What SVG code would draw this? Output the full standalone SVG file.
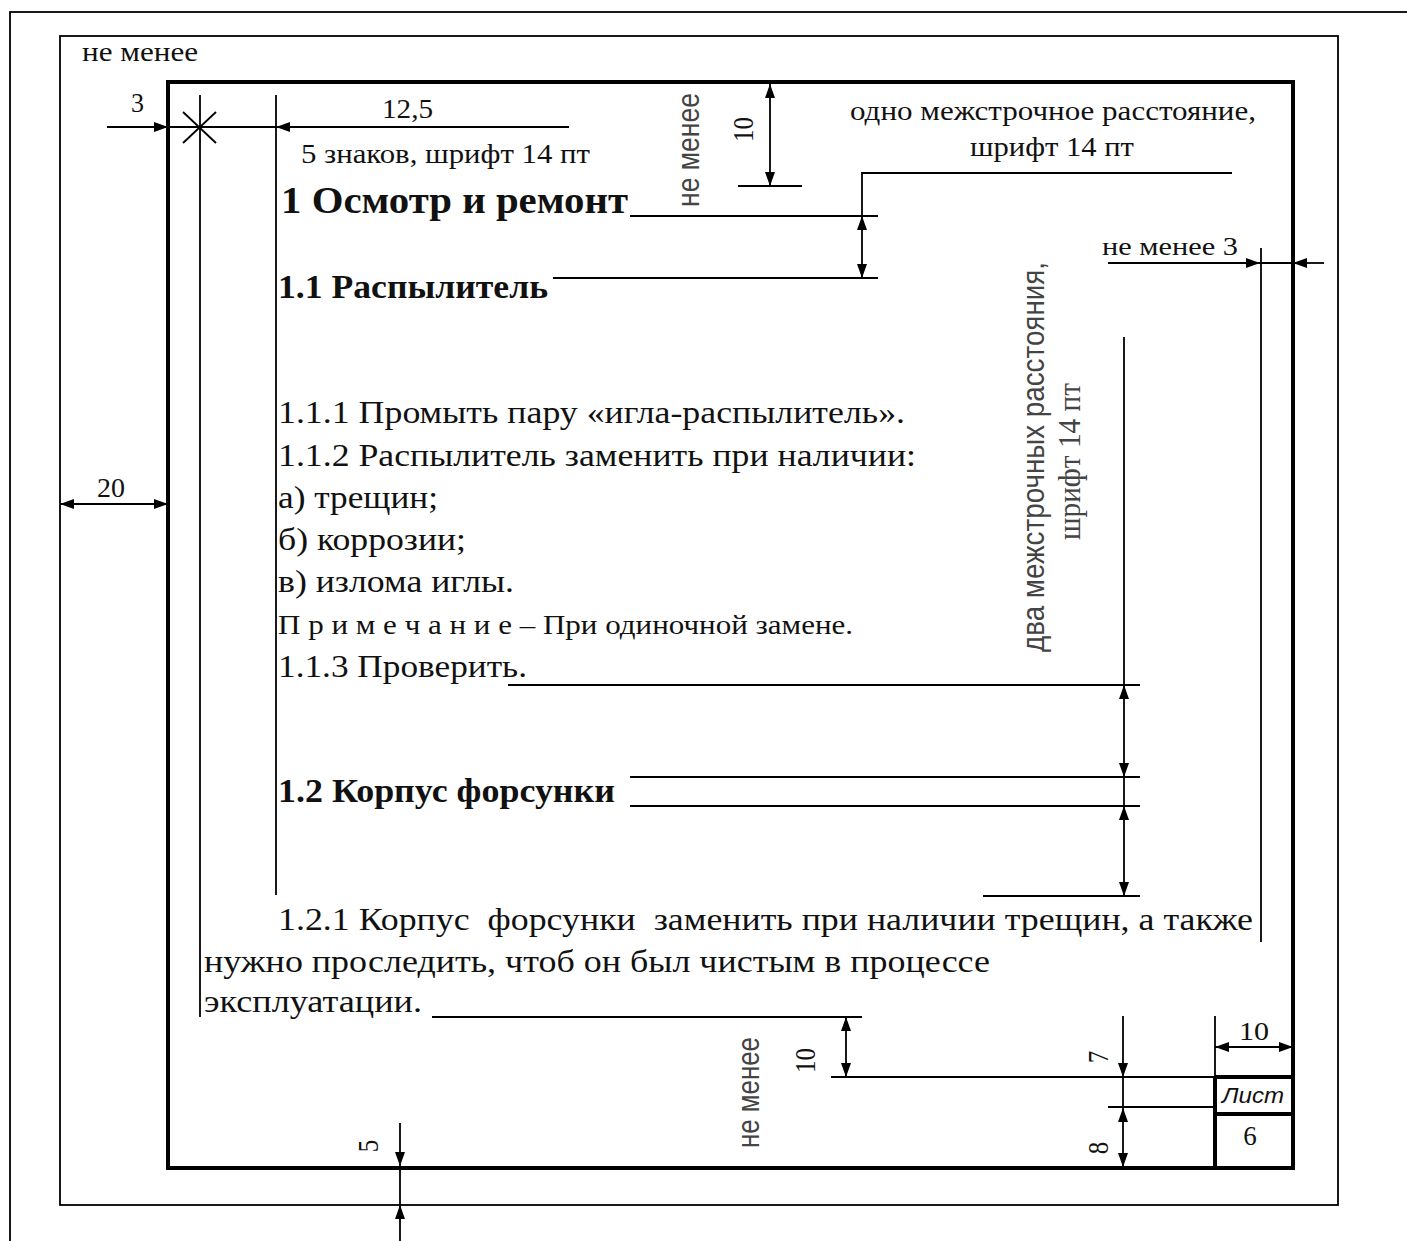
<svg xmlns="http://www.w3.org/2000/svg" width="1407" height="1241" viewBox="0 0 1407 1241">
<style>
.t{font-family:"Liberation Serif","Times New Roman",serif;fill:#111}
.b{font-weight:bold}
.s{font-family:"Liberation Sans",Arial,sans-serif;fill:#444}
.ln{stroke:#000;stroke-width:1.8;fill:none}
.tk{stroke:#000;stroke-width:4;fill:none}
.da{marker-start:url(#a);marker-end:url(#a)}
.ea{marker-end:url(#a)}
</style>
<defs>
<marker id="a" viewBox="0 0 14 10" refX="14" refY="5" markerWidth="14" markerHeight="10" markerUnits="userSpaceOnUse" orient="auto-start-reverse">
<path d="M0,0 L14,5 L0,10 z" fill="#000"/>
</marker>
</defs>
<rect width="1407" height="1241" fill="#fff"/>
<g id="frames">
<rect x="10" y="12" width="1420" height="1260" class="ln" stroke-width="2"/>
<rect x="60" y="36" width="1278" height="1169" class="ln" stroke-width="2"/>
<rect x="168" y="82" width="1125" height="1086" class="tk"/>
</g>
<g id="title-block">
<line x1="1215" y1="1016" x2="1215" y2="1077" class="ln"/>
<line x1="1215" y1="1077" x2="1215" y2="1168" class="tk" stroke-width="3.5"/>
<line x1="1215" y1="1077" x2="1293" y2="1077" class="tk" stroke-width="3.5"/>
<line x1="1215" y1="1114" x2="1293" y2="1114" class="tk" stroke-width="3.5"/>
<text x="1222" y="1103" class="s" style="font-style:italic;fill:#111" font-size="22" textLength="62" lengthAdjust="spacingAndGlyphs">Лист</text>
<text x="1250" y="1145" class="t" font-size="27" text-anchor="middle">6</text>
</g>
<g id="connectors">
<line x1="200" y1="95" x2="200" y2="1017" class="ln"/>
<line x1="276" y1="95" x2="276" y2="895" class="ln"/>
<line x1="183" y1="112" x2="216" y2="143" class="ln" stroke-width="1.4"/>
<line x1="183" y1="143" x2="216" y2="112" class="ln" stroke-width="1.4"/>
<line x1="107" y1="127" x2="168" y2="127" class="ln ea"/>
<line x1="168" y1="127" x2="276" y2="127" class="ln"/>
<line x1="569" y1="127" x2="276" y2="127" class="ln ea"/>
<line x1="60" y1="504" x2="168" y2="504" class="ln da"/>
<line x1="770" y1="84" x2="770" y2="186" class="ln da"/>
<line x1="738" y1="186" x2="802" y2="186" class="ln"/>
<line x1="630" y1="216" x2="878" y2="216" class="ln"/>
<line x1="553" y1="278" x2="878" y2="278" class="ln"/>
<line x1="862" y1="216" x2="862" y2="278" class="ln da"/>
<polyline points="862,216 862,173 1232,173" class="ln"/>
<line x1="1108" y1="263" x2="1260" y2="263" class="ln ea"/>
<line x1="1260" y1="263" x2="1293" y2="263" class="ln"/>
<line x1="1324" y1="263" x2="1293" y2="263" class="ln ea"/>
<line x1="1261" y1="248" x2="1261" y2="942" class="ln"/>
<line x1="1124" y1="337" x2="1124" y2="685" class="ln"/>
<line x1="1124" y1="685" x2="1124" y2="777" class="ln da"/>
<line x1="1124" y1="777" x2="1124" y2="806" class="ln"/>
<line x1="1124" y1="806" x2="1124" y2="896" class="ln da"/>
<line x1="508" y1="685" x2="1140" y2="685" class="ln"/>
<line x1="630" y1="777" x2="1140" y2="777" class="ln"/>
<line x1="630" y1="806" x2="1140" y2="806" class="ln"/>
<line x1="983" y1="896" x2="1140" y2="896" class="ln"/>
<line x1="432" y1="1017" x2="862" y2="1017" class="ln"/>
<line x1="846" y1="1017" x2="846" y2="1077" class="ln da"/>
<line x1="831" y1="1077" x2="1215" y2="1077" class="ln"/>
<line x1="1123" y1="1016" x2="1123" y2="1077" class="ln ea"/>
<line x1="1123" y1="1077" x2="1123" y2="1108" class="ln"/>
<line x1="1123" y1="1108" x2="1123" y2="1167" class="ln da"/>
<line x1="1108" y1="1107" x2="1215" y2="1107" class="ln"/>
<line x1="1215" y1="1047" x2="1293" y2="1047" class="ln da"/>
<line x1="400" y1="1123" x2="400" y2="1166" class="ln ea"/>
<line x1="400" y1="1166" x2="400" y2="1205" class="ln"/>
<line x1="400" y1="1241" x2="400" y2="1205" class="ln ea"/>
</g>
<g id="dimension-labels">
<text x="82" y="61" class="t" font-size="27" textLength="116" lengthAdjust="spacingAndGlyphs">не менее</text>
<text x="131" y="112" class="t" font-size="28" textLength="13" lengthAdjust="spacingAndGlyphs">3</text>
<text x="382" y="118" class="t" font-size="28" textLength="51" lengthAdjust="spacingAndGlyphs">12,5</text>
<text x="301" y="163" class="t" font-size="27" textLength="289" lengthAdjust="spacingAndGlyphs">5 знаков, шрифт 14 пт</text>
<text transform="matrix(0,-1,1.19,0,699,207)" class="s" font-size="26" textLength="114" lengthAdjust="spacingAndGlyphs">не менее</text>
<text transform="matrix(0,-1,1.19,0,753,142)" class="t" font-size="25" textLength="25" lengthAdjust="spacingAndGlyphs">10</text>
<text x="850" y="120" class="t" font-size="27" textLength="406" lengthAdjust="spacingAndGlyphs">одно межстрочное расстояние,</text>
<text x="970" y="156" class="t" font-size="27" textLength="164" lengthAdjust="spacingAndGlyphs">шрифт 14 пт</text>
<text x="1102" y="255" class="t" font-size="26" textLength="136" lengthAdjust="spacingAndGlyphs">не менее 3</text>
<text transform="matrix(0,-1,1.19,0,1044,652)" class="s" font-size="27" textLength="390" lengthAdjust="spacingAndGlyphs">два межстрочных расстояния,</text>
<text transform="matrix(0,-1,1.19,0,1080,540)" class="t" style="fill:#444" font-size="27" textLength="157" lengthAdjust="spacingAndGlyphs">шрифт 14 пт</text>
<text x="97" y="497" class="t" font-size="27" textLength="28" lengthAdjust="spacingAndGlyphs">20</text>
<text transform="matrix(0,-1,1.19,0,759,1148)" class="s" font-size="26" textLength="111" lengthAdjust="spacingAndGlyphs">не менее</text>
<text transform="matrix(0,-1,1.19,0,815,1073)" class="t" font-size="25" textLength="25" lengthAdjust="spacingAndGlyphs">10</text>
<text transform="matrix(0,-1,1.19,0,1108,1057)" class="t" font-size="25" text-anchor="middle">7</text>
<text transform="matrix(0,-1,1.19,0,1108,1148)" class="t" font-size="25" text-anchor="middle">8</text>
<text transform="matrix(0,-1,1.19,0,378,1146)" class="t" font-size="25" text-anchor="middle">5</text>
<text x="1239" y="1040" class="t" font-size="26" textLength="30" lengthAdjust="spacingAndGlyphs">10</text>
</g>
<g id="body-text">
<text x="281" y="213" class="t b" font-size="37" textLength="347" lengthAdjust="spacingAndGlyphs">1 Осмотр и ремонт</text>
<text x="278" y="298" class="t b" font-size="33" textLength="270" lengthAdjust="spacingAndGlyphs">1.1 Распылитель</text>
<text x="278" y="423" class="t" font-size="32" textLength="627" lengthAdjust="spacingAndGlyphs">1.1.1 Промыть пару «игла-распылитель».</text>
<text x="278" y="466" class="t" font-size="32" textLength="638" lengthAdjust="spacingAndGlyphs">1.1.2 Распылитель заменить при наличии:</text>
<text x="278" y="508" class="t" font-size="32" textLength="160" lengthAdjust="spacingAndGlyphs">а) трещин;</text>
<text x="278" y="550" class="t" font-size="32" textLength="188" lengthAdjust="spacingAndGlyphs">б) коррозии;</text>
<text x="278" y="592" class="t" font-size="32" textLength="236" lengthAdjust="spacingAndGlyphs">в) излома иглы.</text>
<text x="278" y="634" class="t" font-size="27" textLength="575" lengthAdjust="spacingAndGlyphs">П р и м е ч а н и е – При одиночной замене.</text>
<text x="278" y="677" class="t" font-size="32" textLength="249" lengthAdjust="spacingAndGlyphs">1.1.3 Проверить.</text>
<text x="278" y="802" class="t b" font-size="33" textLength="337" lengthAdjust="spacingAndGlyphs">1.2 Корпус форсунки</text>
<text x="278" y="930" class="t" font-size="32" textLength="975" lengthAdjust="spacingAndGlyphs" xml:space="preserve">1.2.1 Корпус  форсунки  заменить при наличии трещин, а также</text>
<text x="204" y="972" class="t" font-size="32" textLength="786" lengthAdjust="spacingAndGlyphs">нужно проследить, чтоб он был чистым в процессе</text>
<text x="204" y="1012" class="t" font-size="32" textLength="218" lengthAdjust="spacingAndGlyphs">эксплуатации.</text>
</g>
</svg>
